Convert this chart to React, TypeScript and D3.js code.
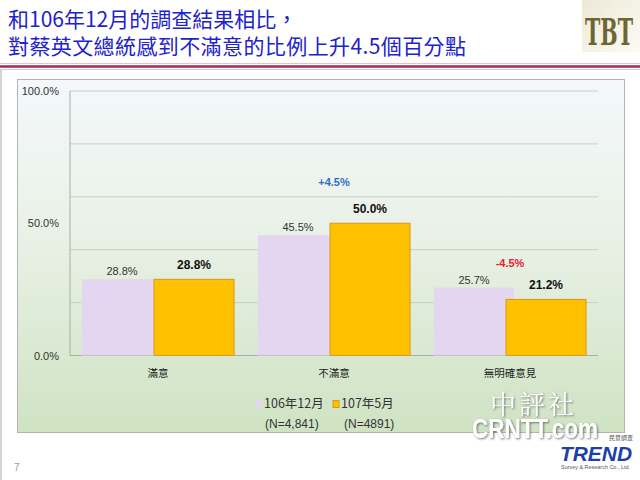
import React from 'react';
import * as d3 from 'd3';

const categories = ['滿意', '不滿意', '無明確意見'];
const seriesNames = ['106年12月', '107年5月'];
const sampleSizes = ['(N=4,841)', '(N=4891)'];
const dec2017 = [28.8, 45.5, 25.7];
const may2018 = [28.8, 50.0, 21.2];
const changes = [
  { category: '不滿意', text: '+4.5%', color: '#2f6fbf', value: 64 },
  { category: '無明確意見', text: '-4.5%', color: '#e8202a', value: 33.5 },
];
const gridTicks = [0, 20, 40, 60, 80, 100];
const labelTicks = [0, 50, 100];

const W = 640;
const H = 480;
const plot = { left: 70, right: 598, top: 91, bottom: 355.5 };
const LAV = '#e4d5f1';
const ORANGE = '#ffc000';
const FONT = '"Liberation Sans", Arial, sans-serif';
const CJK = '"Noto Sans CJK TC", "Noto Sans", sans-serif';

const App: React.FC = () => {
  const x = d3.scaleBand<string>()
    .domain(categories)
    .range([plot.left, plot.right])
    .paddingInner(0.136)
    .paddingOuter(0.068);
  const y = d3.scaleLinear().domain([0, 100]).range([plot.bottom, plot.top]);

  const bw = x.bandwidth();
  const barW = bw / 1.9; // bars overlap a little, like the office chart
  const fmt = (v: number) => d3.format('.1f')(v) + '%';

  return (
    <svg width={W} height={H} style={{ position: 'absolute', left: 0, top: 0, display: 'block' }}>
      <defs>
        <linearGradient id="panel-bg" x1="0" y1="0" x2="0" y2="1">
          <stop offset="0%" stopColor="#f4f8fb" />
          <stop offset="45%" stopColor="#e9f1e6" />
          <stop offset="100%" stopColor="#cfe3c3" />
        </linearGradient>
        <linearGradient id="logo-bg" x1="0" y1="0" x2="1" y2="1">
          <stop offset="0%" stopColor="#eee9d6" />
          <stop offset="100%" stopColor="#fbfaf5" />
        </linearGradient>
        <filter id="wm-shadow" x="-10%" y="-10%" width="130%" height="130%">
          <feDropShadow dx="1" dy="1" stdDeviation="1.2" floodColor="#555" floodOpacity="0.8" />
        </filter>
      </defs>

      <rect width={W} height={H} fill="#fff" />

      {/* title */}
      <g fontFamily={CJK} fill="#2222cc" fontSize={21}>
        <text x={8} y={27}>和106年12月的調查結果相比，</text>
        <text x={8} y={54} textLength={458} lengthAdjust="spacing">對蔡英文總統感到不滿意的比例上升4.5個百分點</text>
      </g>

      {/* logo */}
      <rect x={582} y={0} width={58} height={52} fill="url(#logo-bg)" />
      <text x={585} y={45} fontFamily='"DejaVu Serif", serif' fontWeight="bold"
        fontSize={38} fill="#6e6632" textLength={48} lengthAdjust="spacingAndGlyphs">TBT</text>

      {/* rule */}
      <line x1={0} x2={W} y1={63.5} y2={63.5} stroke="#e6c2cf" strokeWidth={1} />
      <line x1={0} x2={W} y1={66.5} y2={66.5} stroke="#9c2f52" strokeWidth={2.5} />
      <line x1={0} x2={W} y1={69.5} y2={69.5} stroke="#e6c2cf" strokeWidth={1} />
      <line x1={1} x2={1} y1={70} y2={H} stroke="#aaa" strokeWidth={1} />

      {/* chart panel */}
      <rect x={17.5} y={79.5} width={607} height={353} fill="url(#panel-bg)" stroke="#b4b4b4" />

      {/* gridlines */}
      {gridTicks.map(t => (
        <line key={t} x1={plot.left} x2={plot.right} y1={y(t)} y2={y(t)} stroke="#c8cfc8" strokeWidth={1} />
      ))}
      <line x1={plot.left} x2={plot.left} y1={plot.top} y2={plot.bottom} stroke="#a8aea8" />
      <line x1={plot.left} x2={plot.right} y1={plot.bottom} y2={plot.bottom} stroke="#a8aea8" />

      {labelTicks.map(t => (
        <text key={t} x={59} y={y(t) + 4} textAnchor="end" fontFamily={FONT} fontSize={11} fill="#333">
          {fmt(t)}
        </text>
      ))}

      {/* bars */}
      {categories.map((c, i) => {
        const x0 = x(c) as number;
        const xa = x0;
        const xb = x0 + bw - barW;
        return (
          <g key={c}>
            <rect x={xa} y={y(dec2017[i])} width={barW} height={plot.bottom - y(dec2017[i])} fill={LAV} />
            <rect x={xb} y={y(may2018[i])} width={barW} height={plot.bottom - y(may2018[i])}
              fill={ORANGE} stroke="#d99a16" strokeWidth={1} />
            <text x={xa + barW / 2} y={y(dec2017[i]) - 4} textAnchor="middle" fontFamily={FONT}
              fontSize={11} fill="#333">{fmt(dec2017[i])}</text>
            <text x={xb + barW / 2} y={y(may2018[i]) - 10} textAnchor="middle" fontFamily={FONT}
              fontSize={12} fontWeight="bold" fill="#111">{fmt(may2018[i])}</text>
            <text x={x0 + bw / 2} y={377} textAnchor="middle" fontFamily={CJK} fontSize={10.5} fill="#222">{c}</text>
          </g>
        );
      })}

      {/* change annotations */}
      {changes.map(d => (
        <text key={d.text} x={(x(d.category) as number) + bw / 2} y={y(d.value)} textAnchor="middle"
          fontFamily={FONT} fontSize={11} fontWeight="bold" fill={d.color}>{d.text}</text>
      ))}

      {/* legend */}
      {seriesNames.map((s, i) => {
        const lx = i === 0 ? 256 : 333;
        return (
          <g key={s}>
            <rect x={lx} y={400.5} width={6} height={7} fill={i === 0 ? LAV : ORANGE}
              stroke={i === 0 ? 'none' : '#d99a16'} />
            <text x={lx + 8} y={408} fontFamily={CJK} fontSize={12.5} fill="#333">{s}</text>
            <text x={lx + (i === 0 ? 9 : 11)} y={428} fontFamily={FONT} fontSize={12} fill="#333">{sampleSizes[i]}</text>
          </g>
        );
      })}

      {/* page number */}
      <text x={14} y={471} fontFamily={FONT} fontSize={10} fill="#999">7</text>

      {/* watermark */}
      <g filter="url(#wm-shadow)" fill="#fff">
        <text x={490} y={414} fontFamily='"Noto Serif CJK TC", "Noto Sans CJK TC", serif' fontSize={26}
          textLength={84} lengthAdjust="spacing">中評社</text>
        <text x={472} y={438} fontFamily='"Liberation Sans Narrow", "Liberation Sans", sans-serif' fontSize={27}
          fontWeight="bold" textLength={126} lengthAdjust="spacingAndGlyphs">CRNTT.com</text>
      </g>

      {/* TREND logo */}
      <text x={633} y={440} textAnchor="end" fontFamily={CJK} fontSize={6} fill="#555">民意調查</text>
      <text x={560} y={461} fontFamily={FONT} fontSize={21} fontWeight="bold"
        fontStyle="italic" fill="#1d3fa8" textLength={72} lengthAdjust="spacingAndGlyphs">TREND</text>
      <text x={561} y={469} fontFamily={FONT} fontSize={5.5} fill="#555"
        textLength={69} lengthAdjust="spacingAndGlyphs">Survey &amp; Research Co., Ltd.</text>
    </svg>
  );
};

export default App;
